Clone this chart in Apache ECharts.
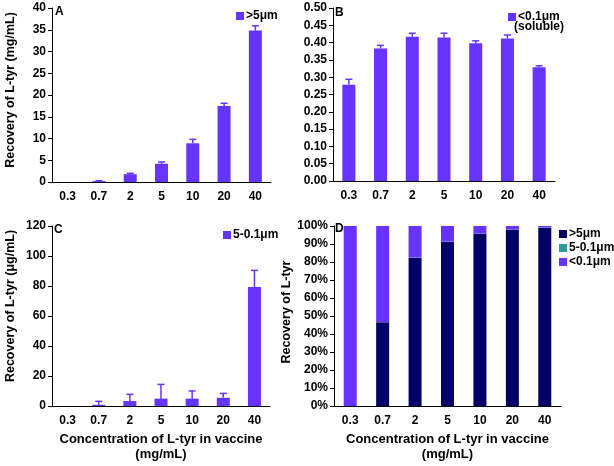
<!DOCTYPE html>
<html><head><meta charset="utf-8">
<script src="https://cdn.jsdelivr.net/npm/echarts@6/dist/echarts.min.js"></script>
<style>html,body{margin:0;padding:0;background:#fff}#c{width:614px;height:466px}</style>
</head><body><div id="c"></div><script>
const categories = ['0.3', '0.7', '2', '5', '10', '20', '40'];
const aMean = [0, 0.2, 1.8, 4.2, 8.9, 17.5, 34.8];
const aErr = [0, 0.1, 0.2, 0.4, 0.9, 0.6, 1.1];
const bMean = [0.278, 0.383, 0.417, 0.415, 0.398, 0.412, 0.329];
const bErr = [0.016, 0.009, 0.010, 0.012, 0.007, 0.010, 0.004];
const cMean = [0, 0.8, 3.3, 4.9, 4.9, 5.5, 79.3];
const cErr = [0, 2.3, 4.5, 9.5, 5.1, 2.9, 11.1];
const dLarge = [0, 46.5, 82.4, 91.3, 95.7, 97.9, 99.0];
const dMid = [0, 0.1, 0.1, 0.1, 0.1, 0.1, 0.2];
const dSmall = [100, 53.4, 17.5, 8.6, 4.2, 2.0, 0.8];

const PURPLE = '#6633ff', NAVY = '#000066', TEAL = '#339999';
const FONT = 'Liberation Sans, Arial, sans-serif';
const lbl = {color: '#000', fontFamily: FONT, fontWeight: 'bold', fontSize: 12};

function xAx(gi, name) {
  const o = {type: 'category', gridIndex: gi, data: categories,
    axisLine: {lineStyle: {color: '#000', width: 1}},
    axisTick: {length: 4, lineStyle: {color: '#000'}},
    axisLabel: Object.assign({margin: 9}, lbl)};
  if (name) Object.assign(o, {name: name, nameLocation: 'middle', nameGap: 26,
    nameTextStyle: {color: '#000', fontFamily: FONT, fontWeight: 'bold', fontSize: 13, lineHeight: 15}});
  return o;
}
function yAx(gi, max, interval, fmt, name, gap, pad) {
  const o = {type: 'value', gridIndex: gi, min: 0, max: max, interval: interval,
    splitLine: {show: false},
    axisLine: {show: true, lineStyle: {color: '#000', width: 1}},
    axisTick: {show: true, length: 4, lineStyle: {color: '#000'}},
    axisLabel: Object.assign({margin: 6, formatter: fmt}, lbl)};
  if (name) Object.assign(o, {name: name, nameLocation: 'middle', nameGap: gap, nameRotate: 90,
    nameTextStyle: {color: '#000', fontFamily: FONT, fontWeight: 'bold', fontSize: 12.5, padding: [0, 0, 0, pad || 0]}});
  return o;
}
function errSeries(gi, means, errs) {
  return {type: 'custom', xAxisIndex: gi, yAxisIndex: gi, z: 3, silent: true,
    data: means.map((m, i) => [i, m, m + errs[i]]),
    encode: {x: 0, y: [1, 2]},
    renderItem: (params, api) => {
      if (api.value(2) - api.value(1) <= 0) return;
      const b = api.coord([api.value(0), api.value(1)]);
      const t = api.coord([api.value(0), api.value(2)]);
      const hw = 3.5;
      return {type: 'group', children: [
        {type: 'line', shape: {x1: b[0], y1: b[1], x2: t[0], y2: t[1]}, style: {stroke: PURPLE, lineWidth: 1.5}},
        {type: 'line', shape: {x1: t[0] - hw, y1: t[1], x2: t[0] + hw, y2: t[1]}, style: {stroke: PURPLE, lineWidth: 1.5}}
      ]};
    }};
}
function bar(gi, name, data, color, stack) {
  const s = {type: 'bar', name: name, xAxisIndex: gi, yAxisIndex: gi, data: data, barWidth: 13,
    itemStyle: {color: color}};
  if (stack) s.stack = stack;
  return s;
}
function legend(left, top, items, extra) {
  return Object.assign({left: left, top: top, itemWidth: 8, itemHeight: 8, itemGap: 4,
    selectedMode: false, icon: 'rect',
    textStyle: {color: '#000', fontFamily: FONT, fontWeight: 'bold', fontSize: 12, padding: [0, 0, 0, -3]},
    data: items.map(it => ({name: it[0], itemStyle: {color: it[1]}}))}, extra || {});
}
function panelLabel(x, y, t) {
  return {type: 'text', left: x, top: y, style: {text: t, fill: '#000', font: 'bold 12px ' + FONT}};
}

const chart = echarts.init(document.getElementById('c'), null, {renderer: 'canvas'});
chart.setOption({
  animation: false,
  backgroundColor: '#fff',
  grid: [
    {left: 52, top: 8, width: 219, height: 174},
    {left: 333, top: 8, width: 222, height: 173},
    {left: 52, top: 226, width: 218, height: 180},
    {left: 334, top: 226, width: 227, height: 180}
  ],
  xAxis: [xAx(0), xAx(1), xAx(2, 'Concentration of L-tyr in vaccine\n(mg/mL)'), xAx(3, 'Concentration of L-tyr in vaccine\n(mg/mL)')],
  yAxis: [
    yAx(0, 40, 5, '{value}', 'Recovery of L-tyr (mg/mL)', 35, 10),
    yAx(1, 0.5, 0.05, v => v.toFixed(2)),
    yAx(2, 120, 20, '{value}', 'Recovery of L-tyr (μg/mL)', 35, 20),
    yAx(3, 100, 10, '{value}%', 'Recovery of L-tyr', 40, 8)
  ],
  legend: [
    legend(231, 5, [['>5μm', PURPLE]]),
    legend(503, 6, [['<0.1μm', PURPLE]]),
    legend(218, 224, [['5-0.1μm', PURPLE]]),
    legend(554, 223, [['>5μm', NAVY], ['5-0.1μm', TEAL], ['<0.1μm', PURPLE]], {orient: 'vertical', itemGap: 2})
  ],
  graphic: [
    panelLabel(55, 6, 'A'), panelLabel(335, 7, 'B'), panelLabel(54, 224, 'C'), panelLabel(335, 223, 'D'),
    {type: 'text', left: 514, top: 21, style: {text: '(soluble)', fill: '#000', font: 'bold 12px ' + FONT}}
  ],
  series: [
    bar(0, '>5μm', aMean, PURPLE), errSeries(0, aMean, aErr),
    bar(1, '<0.1μm', bMean, PURPLE), errSeries(1, bMean, bErr),
    bar(2, '5-0.1μm', cMean, PURPLE), errSeries(2, cMean, cErr),
    bar(3, '>5μm', dLarge, NAVY, 'd'),
    bar(3, '5-0.1μm', dMid, TEAL, 'd'),
    bar(3, '<0.1μm', dSmall, PURPLE, 'd')
  ]
});
</script></body></html>
